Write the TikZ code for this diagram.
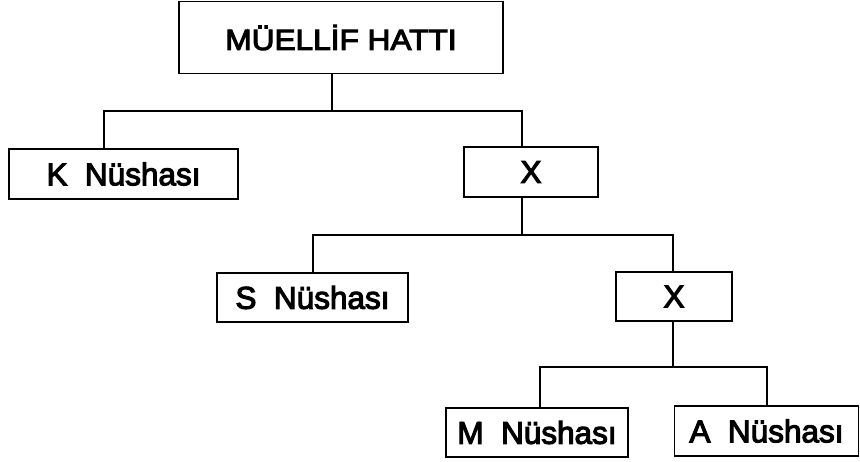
\documentclass[tikz,border=0pt]{standalone}
\usepackage{fontspec}
\usepackage{graphicx}
\setmainfont{Liberation Sans}
\newfontfamily\heavyfont{Liberation Sans}[FakeBold=3.5]
\begin{document}
\begin{tikzpicture}[x=1pt,y=-1pt,
  box/.style={draw, line width=1.6pt, inner sep=0pt, anchor=center},
  link/.style={line width=1.6pt},
  bigtext/.style={font=\heavyfont\fontsize{29}{29}\selectfont},
  midtext/.style={font=\heavyfont\fontsize{31.5}{31.5}\selectfont}]
\useasboundingbox (0,0) rectangle (860,461);
\node[box,bigtext,minimum width=324pt,minimum height=72pt] (top) at (341,37.5) {\scalebox{1.09}[1]{MÜELLİF HATTI}};
\node[box,midtext,minimum width=229pt,minimum height=50pt] (k) at (123.5,174) {K\ \ Nüshası};
\node[box,midtext,minimum width=134pt,minimum height=50pt] (x1) at (531,172) {X};
\node[box,midtext,minimum width=191pt,minimum height=49pt] (s) at (312.5,297.5) {S\ \ Nüshası};
\node[box,midtext,minimum width=116pt,minimum height=49pt] (x2) at (674,296.5) {X};
\node[box,midtext,minimum width=182pt,minimum height=49pt] (m) at (537,432.5) {M\ \ Nüshası};
\node[box,midtext,minimum width=184pt,minimum height=50pt] (a) at (766.5,431) {A\ \ Nüshası};
% junctions
\coordinate (j1) at (332,111);
\coordinate (j1k) at (104,111);
\coordinate (j1x) at (522,111);
\coordinate (j2) at (522,235);
\coordinate (j2s) at (313,235);
\coordinate (j2x) at (673,235);
\coordinate (j3) at (673,367);
\coordinate (j3m) at (540,367);
\coordinate (j3a) at (767,367);
\draw[link] (j1 |- top.south) -- (j1);
\draw[link] (j1k |- k.north) -- (j1k) -- (j1x) -- (j1x |- x1.north);
\draw[link] (j2 |- x1.south) -- (j2);
\draw[link] (j2s |- s.north) -- (j2s) -- (j2x) -- (j2x |- x2.north);
\draw[link] (j3 |- x2.south) -- (j3);
\draw[link] (j3m |- m.north) -- (j3m) -- (j3a) -- (j3a |- a.north);
\end{tikzpicture}
\end{document}
